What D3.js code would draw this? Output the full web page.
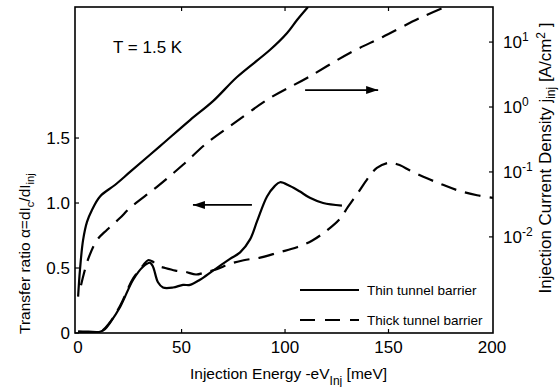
<!DOCTYPE html>
<html>
<head>
<meta charset="utf-8">
<script src="https://cdn.jsdelivr.net/npm/d3@7/dist/d3.min.js"></script>
<style>
  html, body { margin: 0; padding: 0; background: #fff; }
  svg { display: block; font-family: "Liberation Sans", Arial, sans-serif; }
</style>
</head>
<body>
<svg id="chart" width="560" height="387"></svg>
<script>
// ---------- data ----------
// Injection current density (right, log axis), thin barrier
const thinJEnergy = [0, 0.9, 2.4, 4.3, 6.7, 10.6, 17.8, 25.1, 39.6, 54.1, 65.2, 76.8, 92.8, 101, 105.8, 111.1];
const thinJ       = [0.0012, 0.0031, 0.0089, 0.017, 0.026, 0.042, 0.063, 0.10, 0.25, 0.63, 1.23, 2.9, 7.6, 13.8, 21.9, 34.7];
// Injection current density, thick barrier
const thickJEnergy = [1.4, 4.8, 9.1, 14, 20.2, 25.1, 38.1, 50.7, 62.3, 74.9, 92.8, 110.6, 131.3, 147.2, 165.1, 177.3];
const thickJ       = [0.0018, 0.0045, 0.0089, 0.0129, 0.0195, 0.028, 0.059, 0.129, 0.28, 0.55, 1.38, 2.8, 6.8, 12.0, 23.4, 34.7];
// Transfer ratio (left axis), thin barrier
const thinAlphaEnergy = [0, 5, 10.6, 13, 15.5, 20.3, 26.6, 31.4, 34.8, 36.2, 38.6, 41, 45.9, 50.7, 54.1, 58.9, 65.2, 73.4, 78.3, 83.1, 86.5, 91.3, 95, 97.6, 102.4, 107, 112, 118.4, 127.5];
const thinAlpha       = [0.01, 0.01, 0.01, 0.03, 0.08, 0.2, 0.41, 0.51, 0.54, 0.51, 0.39, 0.35, 0.35, 0.37, 0.37, 0.41, 0.48, 0.57, 0.62, 0.72, 0.86, 1.05, 1.13, 1.16, 1.13, 1.09, 1.04, 1.0, 0.98];
// Transfer ratio, thick barrier
const thickAlphaEnergy = [0, 10.6, 15.5, 20.3, 26.6, 31.4, 33.8, 36, 38, 42, 47, 52, 57, 62, 67, 73, 80, 88, 97, 105.8, 113, 120.3, 126.6, 130.4, 135.3, 139.6, 144.4, 150.7, 155.6, 160.4, 168.6, 176.3, 183, 192.8, 200.5];
const thickAlpha       = [0.01, 0.01, 0.085, 0.21, 0.42, 0.52, 0.56, 0.55, 0.52, 0.5, 0.48, 0.47, 0.45, 0.47, 0.49, 0.53, 0.56, 0.58, 0.62, 0.66, 0.71, 0.79, 0.88, 0.97, 1.08, 1.18, 1.27, 1.31, 1.29, 1.25, 1.19, 1.14, 1.10, 1.06, 1.04];

const xTicks = [0, 50, 100, 150, 200];
const yLeftTicks = [0, 0.5, 1.0, 1.5];
const yLeftTickLabels = ["0", "0.5", "1.0", "1.5"];
const yRightTicks = [0.01, 0.1, 1, 10];
const yRightExponents = ["-2", "-1", "0", "1"];
const legendLabels = ["Thin tunnel barrier", "Thick tunnel barrier"];

// ---------- layout ----------
const L = 75, R = 493, T = 7, B = 333;
const svg = d3.select("#chart");
const x = d3.scaleLinear().domain([-1.5, 200.5]).range([L, R]);
const yL = d3.scaleLinear().domain([0, 2.508]).range([B, T]);
const yR = d3.scaleLog().domain([Math.pow(10, -3.48), Math.pow(10, 1.54)]).range([B, T]);

svg.append("clipPath").attr("id", "clip")
  .append("rect").attr("x", L).attr("y", T).attr("width", R - L).attr("height", B - T);

const g = svg.append("g").attr("clip-path", "url(#clip)");
const curve = d3.curveCatmullRom.alpha(0.5);
const lineR = d3.line().x(d => x(d[0])).y(d => yR(d[1])).curve(curve);
const lineL = d3.line().x(d => x(d[0])).y(d => yL(d[1])).curve(curve);

const zip = (a, b) => a.map((v, i) => [v, b[i]]);
const dash = "16,9";

g.append("path").attr("d", lineR(zip(thinJEnergy, thinJ)))
  .attr("fill", "none").attr("stroke", "#000").attr("stroke-width", 2.2);
g.append("path").attr("d", lineR(zip(thickJEnergy, thickJ)))
  .attr("fill", "none").attr("stroke", "#000").attr("stroke-width", 2.2).attr("stroke-dasharray", dash);
g.append("path").attr("d", lineL(zip(thinAlphaEnergy, thinAlpha)))
  .attr("fill", "none").attr("stroke", "#000").attr("stroke-width", 2.2);
g.append("path").attr("d", lineL(zip(thickAlphaEnergy, thickAlpha)))
  .attr("fill", "none").attr("stroke", "#000").attr("stroke-width", 2.2).attr("stroke-dasharray", dash);

// frame
svg.append("rect").attr("x", L).attr("y", T).attr("width", R - L).attr("height", B - T)
  .attr("fill", "none").attr("stroke", "#000").attr("stroke-width", 1.6);

// ticks (inward)
const tk = 4;
xTicks.filter(v => v > 0 && v < 200).forEach(v => {
  svg.append("line").attr("x1", x(v)).attr("x2", x(v)).attr("y1", B).attr("y2", B - tk).attr("stroke", "#000").attr("stroke-width", 1.2);
  svg.append("line").attr("x1", x(v)).attr("x2", x(v)).attr("y1", T).attr("y2", T + tk).attr("stroke", "#000").attr("stroke-width", 1.2);
});
yLeftTicks.forEach(v => {
  svg.append("line").attr("x1", L).attr("x2", L + tk).attr("y1", yL(v)).attr("y2", yL(v)).attr("stroke", "#000").attr("stroke-width", 1.2);
});
yRightTicks.forEach(v => {
  svg.append("line").attr("x1", R).attr("x2", R - tk).attr("y1", yR(v)).attr("y2", yR(v)).attr("stroke", "#000").attr("stroke-width", 1.2);
});

// tick labels
const fs = 17;
xTicks.forEach(v => {
  svg.append("text").attr("x", x(v)).attr("y", 353).attr("text-anchor", "middle")
    .attr("font-size", fs).text(v);
});
yLeftTicks.forEach((v, i) => {
  svg.append("text").attr("x", 70).attr("y", yL(v)).attr("dy", "0.35em").attr("text-anchor", "end")
    .attr("font-size", fs).text(yLeftTickLabels[i]);
});
yRightTicks.forEach((v, i) => {
  const t = svg.append("text").attr("x", 503).attr("y", yR(v)).attr("dy", "0.35em")
    .attr("font-size", fs);
  t.append("tspan").text("10");
  t.append("tspan").attr("dy", "-0.55em").attr("font-size", 12).text(yRightExponents[i]);
});

// axis titles
const xt = svg.append("text").attr("x", 190).attr("y", 379).attr("font-size", 15.5);
xt.append("tspan").text("Injection Energy  -eV");
xt.append("tspan").attr("dy", 6).attr("font-size", 12).text("Inj");
xt.append("tspan").attr("dy", -6).text(" [meV]");

const lt = svg.append("text").attr("transform", "translate(30,334) rotate(-90)").attr("font-size", 15.5);
lt.append("tspan").text("Transfer ratio   \u03b1=dI");
lt.append("tspan").attr("dy", 4).attr("font-size", 11).text("c");
lt.append("tspan").attr("dy", -4).text("/dI");
lt.append("tspan").attr("dy", 4).attr("font-size", 11).text("inj");

const rt = svg.append("text").attr("transform", "translate(551,158) rotate(-90)")
  .attr("font-size", 17).attr("text-anchor", "middle");
rt.append("tspan").text("Injection Current Density  j");
rt.append("tspan").attr("dy", 4).attr("font-size", 12).text("inj");
rt.append("tspan").attr("dy", -4).text(" [A/cm");
rt.append("tspan").attr("dy", -6).attr("font-size", 12).text("2");
rt.append("tspan").attr("dy", 6).text(" ]");

// annotation
svg.append("text").attr("x", 113).attr("y", 53).attr("font-size", 17).text("T = 1.5 K");

// arrows (positioned in data units)
const arrow = (x1, x2, y) => {
  svg.append("line").attr("x1", x1).attr("x2", x2).attr("y1", y).attr("y2", y)
    .attr("stroke", "#000").attr("stroke-width", 1.8);
  const dir = Math.sign(x2 - x1);
  svg.append("path")
    .attr("d", `M${x2},${y} L${x2 - dir * 12},${y - 4} L${x2 - dir * 12},${y + 4} Z`)
    .attr("fill", "#000");
};
arrow(x(84), x(55.5), yL(0.985));
arrow(x(109.7), x(145), yR(1.82));

// legend
const lg = [{y: 290, dash: null}, {y: 320, dash: "15,10"}];
lg.forEach((d, i) => {
  svg.append("line").attr("x1", 300).attr("x2", 359).attr("y1", d.y).attr("y2", d.y)
    .attr("stroke", "#000").attr("stroke-width", 2).attr("stroke-dasharray", d.dash);
  svg.append("text").attr("x", 367).attr("y", d.y).attr("dy", "0.35em").attr("font-size", 13.5)
    .text(legendLabels[i]);
});
</script>
</body>
</html>
